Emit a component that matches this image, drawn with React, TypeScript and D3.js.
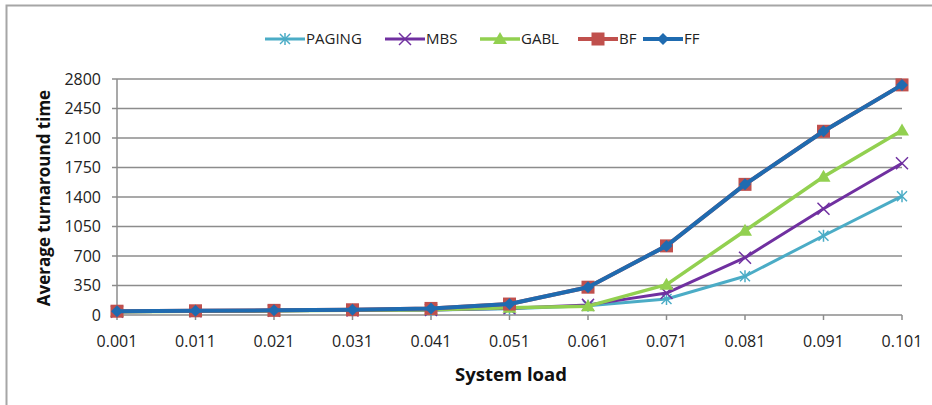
import React from "react";
import * as d3 from "d3";

const categories = ["0.001", "0.011", "0.021", "0.031", "0.041", "0.051", "0.061", "0.071", "0.081", "0.091", "0.101"];
const yTicks = [0, 350, 700, 1050, 1400, 1750, 2100, 2450, 2800];
const pagingValues = [40, 45, 50, 55, 60, 75, 110, 190, 460, 940, 1410];
const mbsValues = [40, 45, 50, 55, 60, 80, 120, 260, 680, 1260, 1800];
const gablValues = [40, 45, 50, 55, 62, 85, 105, 360, 1000, 1640, 2190];
const bfValues = [45, 50, 55, 62, 78, 130, 330, 820, 1550, 2180, 2730];
const ffValues = [45, 50, 55, 62, 78, 130, 330, 820, 1550, 2180, 2730];

const series = [
  { name: "PAGING", values: pagingValues, color: "#4BACC6", marker: "star", width: 3 },
  { name: "MBS", values: mbsValues, color: "#7030A0", marker: "x", width: 3 },
  { name: "GABL", values: gablValues, color: "#92D050", marker: "triangle", width: 3.5 },
  { name: "BF", values: bfValues, color: "#C0504D", marker: "square", width: 4 },
  { name: "FF", values: ffValues, color: "#1F6BB0", marker: "diamond", width: 4 },
];

const legendX = [265, 385, 480, 578, 643];
const FONT = "'Open Sans', sans-serif";

function Marker({ type, x, y, color }: { type: string; x: number; y: number; color: string }) {
  if (type === "star") {
    return (
      <g stroke={color} strokeWidth={1.5}>
        <line x1={x - 5} y1={y - 5} x2={x + 5} y2={y + 5} />
        <line x1={x - 5} y1={y + 5} x2={x + 5} y2={y - 5} />
        <line x1={x} y1={y - 6} x2={x} y2={y + 6} />
      </g>
    );
  }
  if (type === "x") {
    return (
      <g stroke={color} strokeWidth={1.5}>
        <line x1={x - 6} y1={y - 6} x2={x + 6} y2={y + 6} />
        <line x1={x - 6} y1={y + 6} x2={x + 6} y2={y - 6} />
      </g>
    );
  }
  if (type === "triangle") {
    return <path d={`M${x},${y - 7}L${x + 7},${y + 5}L${x - 7},${y + 5}Z`} fill={color} />;
  }
  if (type === "square") {
    return <rect x={x - 6.5} y={y - 6.5} width={13} height={13} fill={color} />;
  }
  return <path d={`M${x},${y - 6}L${x + 6},${y}L${x},${y + 6}L${x - 6},${y}Z`} fill={color} />;
}

export default function App() {
  const W = 932, H = 405;
  const x = d3.scalePoint<string>().domain(categories).range([117, 902]);
  const y = d3.scaleLinear().domain([0, 2800]).range([315, 79]);
  const line = d3
    .line<number>()
    .x((_, i) => x(categories[i]) as number)
    .y((d) => y(d));

  return (
    <svg width={W} height={H} style={{ position: "absolute", left: 0, top: 0 }}>
      <rect x={0} y={0} width={W} height={H} fill="#fff" />
      <rect x={6.5} y={5.5} width={W + 10} height={H + 10} fill="none" stroke="#a6a6a6" strokeWidth={2} />
      {yTicks.map((t) => (
        <g key={t}>
          {t > 0 && <line x1={117} x2={902} y1={y(t)} y2={y(t)} stroke="#8c8c8c" strokeWidth={1.5} />}
          <line x1={112} x2={117} y1={y(t)} y2={y(t)} stroke="#8c8c8c" strokeWidth={1.5} />
          <text x={101} y={y(t)} dy="0.35em" textAnchor="end" fontFamily={FONT} fontSize={16} fill="#222">
            {t}
          </text>
        </g>
      ))}
      <line x1={117} x2={117} y1={y(2800)} y2={y(0)} stroke="#8c8c8c" strokeWidth={1.5} />
      <line x1={117} x2={902} y1={y(0)} y2={y(0)} stroke="#8c8c8c" strokeWidth={1.5} />
      {categories.map((c) => (
        <g key={c}>
          <line x1={x(c)} x2={x(c)} y1={y(0)} y2={y(0) + 5} stroke="#8c8c8c" strokeWidth={1.5} />
          <text x={x(c)} y={347} textAnchor="middle" fontFamily={FONT} fontSize={16} fill="#222">
            {c}
          </text>
        </g>
      ))}
      <text
        transform={`translate(50,198) rotate(-90)`}
        textAnchor="middle"
        fontFamily={FONT}
        fontWeight="bold"
        fontSize={17}
        fill="#111"
      >
        Average turnaround time
      </text>
      <text x={511} y={381} textAnchor="middle" fontFamily={FONT} fontWeight="bold" fontSize={18.5} fill="#111">
        System load
      </text>
      {series.map((s) => (
        <g key={s.name}>
          <path d={line(s.values) || ""} fill="none" stroke={s.color} strokeWidth={s.width} strokeLinejoin="round" />
          {s.values.map((v, i) => (
            <Marker key={i} type={s.marker} x={x(categories[i]) as number} y={y(v)} color={s.color} />
          ))}
        </g>
      ))}
      {series.map((s, i) => (
        <g key={s.name}>
          <line x1={legendX[i]} x2={legendX[i] + 40} y1={39} y2={39} stroke={s.color} strokeWidth={s.width} />
          <Marker type={s.marker} x={legendX[i] + 20} y={39} color={s.color} />
          <text x={legendX[i] + 41} y={39} dy="0.35em" fontFamily={FONT} fontSize={15} fill="#222">
            {s.name}
          </text>
        </g>
      ))}
    </svg>
  );
}
